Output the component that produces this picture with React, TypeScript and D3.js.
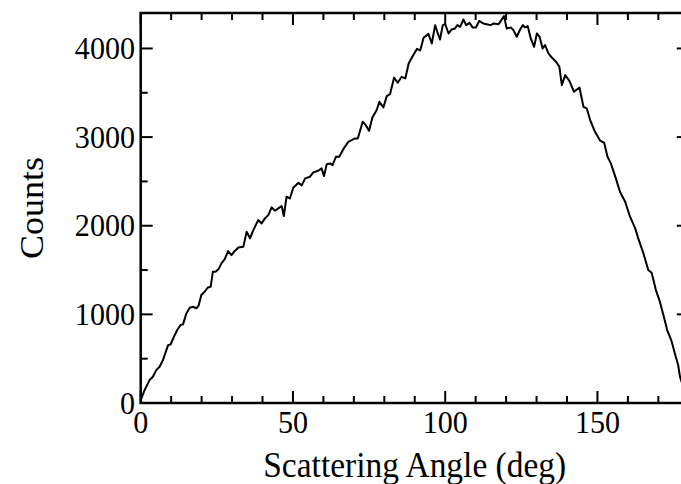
import React from "react";
import * as d3 from "d3";

const angles = [
  0, 1.3, 2.9, 4.0, 5.1, 6.2, 7.3, 9.0, 9.8, 11.0, 12.0, 13.1, 13.9, 15.0, 16.1, 17.2, 18.3, 19.0, 19.9,
  21.0, 22.1, 23.0, 23.7, 24.6, 25.6, 26.5, 27.6, 28.7, 29.8, 30.9, 32.1, 33.7, 34.8, 35.9, 37.0, 38.6,
  39.7, 40.8, 41.9, 43.0, 44.1, 45.2, 46.3, 47.0, 47.9, 49.0, 50.1, 51.8, 52.9, 54.0, 55.6, 56.7, 58.3,
  59.4, 60.2, 61.1, 62.2, 63.0, 64.1, 65.2, 66.5, 68.2, 69.3, 70.4, 71.3, 72.9, 73.9, 75.0, 76.1, 77.5,
  78.4, 79.7, 80.8, 81.9, 83.2, 84.4, 85.7, 86.9, 88.0, 89.2, 90.7, 91.8, 92.9, 94.5, 95.6, 96.7, 97.4,
  98.3, 99.2, 100.0, 101.1, 102.1, 103.2, 104.0, 104.9, 106.0, 106.9, 108.0, 109.0, 110.1, 111.2, 112.5,
  113.6, 114.9, 116.0, 117.5, 118.3, 119.3, 120.2, 121.5, 122.4, 123.5, 124.6, 125.5, 126.2, 127.1,
  128.1, 129.2, 130.1, 131.0, 132.0, 132.8, 133.9, 135.0, 136.4, 137.5, 138.3, 139.4, 140.8, 142.3,
  144.1, 145.4, 146.5, 147.6, 149.2, 150.9, 152.2, 153.3, 154.4, 155.8, 157.4, 159.1, 160.7, 162.4,
  163.4, 165.1, 166.7, 167.8, 169.2, 170.5, 171.8, 172.9, 174.4, 175.4, 176.5, 177.1, 178.0, 179.0, 180.0,
];

const counts = [
  30, 147, 258, 296, 371, 409, 484, 653, 660, 755, 823, 880, 887, 1011, 1075, 1086, 1068, 1098, 1218,
  1255, 1304, 1312, 1481, 1481, 1511, 1575, 1624, 1714, 1669, 1715, 1755, 1763, 1932, 1857, 1951, 2064,
  2026, 2083, 2120, 2207, 2169, 2195, 2222, 2109, 2327, 2308, 2429, 2485, 2455, 2534, 2553, 2602, 2620,
  2647, 2560, 2695, 2703, 2684, 2778, 2778, 2861, 2947, 2966, 2985, 2985, 3173, 3135, 3071, 3222, 3305,
  3398, 3335, 3462, 3485, 3671, 3613, 3680, 3662, 3831, 3906, 3995, 3978, 4120, 4165, 4056, 4263, 4188,
  4101, 4263, 4274, 4169, 4214, 4225, 4263, 4244, 4327, 4263, 4289, 4237, 4237, 4312, 4282,
  4274, 4263, 4282, 4274, 4312, 4365, 4225, 4237, 4207, 4132, 4214, 4263, 4237, 4252,
  4113, 4019, 4169, 4132, 4000, 4038, 3944, 3898, 3850, 3793, 3586, 3699, 3635, 3511,
  3560, 3342, 3323, 3192, 3060, 2959, 2936, 2778, 2703, 2560, 2383, 2271, 2102, 1970,
  1857, 1688, 1500, 1470, 1274, 1143, 974, 823, 692, 560, 429, 297, 200, 100, 20,
];

const xMajorTicks = [0, 50, 100, 150];
const xMinorTicks = [10, 20, 30, 40, 60, 70, 80, 90, 110, 120, 130, 140, 160, 170];
const yMajorTicks = [0, 1000, 2000, 3000, 4000];
const yMinorTicks = [500, 1500, 2500, 3500];

const xTitle = "Scattering Angle (deg)";
const yTitle = "Counts";

export default function App() {
  const W = 681;
  const H = 484;
  const x = d3.scaleLinear().domain([0, 180]).range([140.7, 688.8]);
  const y = d3.scaleLinear().domain([0, 4400]).range([403, 13]);
  const [x0, x1] = x.range();
  const [yB, yT] = y.range();
  const pts = angles.map((a, i) => [a, counts[i]] as [number, number]);
  const line = d3
    .line<[number, number]>()
    .x((d) => x(d[0]))
    .y((d) => y(d[1]));
  const font = "'Liberation Serif', 'DejaVu Serif', serif";
  const major = 12;
  const minor = 7;
  const tickW = 2;
  const sx = 0.93;

  return (
    <svg
      width={W}
      height={H}
      style={{ position: "absolute", left: 0, top: 0, background: "#fff" }}
    >
      <rect x={0} y={0} width={W} height={H} fill="#fff" />
      <defs>
        <clipPath id="plot">
          <rect x={x0} y={yT} width={x1 - x0} height={yB - yT} />
        </clipPath>
      </defs>
      <path
        d={line(pts) || ""}
        fill="none"
        stroke="#000"
        strokeWidth={2}
        strokeLinejoin="round"
        clipPath="url(#plot)"
      />
      <g stroke="#000" strokeWidth={tickW}>
        {xMajorTicks.map((t) => (
          <g key={"xm" + t}>
            <line x1={x(t)} x2={x(t)} y1={yB} y2={yB - major} />
            <line x1={x(t)} x2={x(t)} y1={yT} y2={yT + major} />
          </g>
        ))}
        {xMinorTicks.map((t) => (
          <g key={"xn" + t}>
            <line x1={x(t)} x2={x(t)} y1={yB} y2={yB - minor} />
            <line x1={x(t)} x2={x(t)} y1={yT} y2={yT + minor} />
          </g>
        ))}
        {yMajorTicks.map((t) => (
          <g key={"ym" + t}>
            <line x1={x0} x2={x0 + major} y1={y(t)} y2={y(t)} />
            <line x1={x1} x2={x1 - major} y1={y(t)} y2={y(t)} />
          </g>
        ))}
        {yMinorTicks.map((t) => (
          <g key={"yn" + t}>
            <line x1={x0} x2={x0 + minor} y1={y(t)} y2={y(t)} />
            <line x1={x1} x2={x1 - minor} y1={y(t)} y2={y(t)} />
          </g>
        ))}
      </g>
      <rect
        x={x0}
        y={yT}
        width={x1 - x0}
        height={yB - yT}
        fill="none"
        stroke="#000"
        strokeWidth={2.5}
      />
      <g fontFamily={font} fontSize={32} fill="#000">
        {xMajorTicks.map((t) => (
          <text
            key={"xl" + t}
            transform={`translate(${x(t)}, 433) scale(0.94, 1)`}
            textAnchor="middle"
          >
            {t}
          </text>
        ))}
        {yMajorTicks.map((t) => (
          <text
            key={"yl" + t}
            transform={`translate(135, ${y(t) + 10.5}) scale(0.94, 1)`}
            textAnchor="end"
          >
            {t}
          </text>
        ))}
      </g>
      <text
        transform={`translate(${(x0 + x1) / 2}, 477) scale(${sx}, 1)`}
        textAnchor="middle"
        fontFamily={font}
        fontSize={36}
        fill="#000"
      >
        {xTitle}
      </text>
      <text
        transform={`translate(43, ${(yT + yB) / 2}) scale(${sx}, 1) rotate(-90)`}
        textAnchor="middle"
        fontFamily={font}
        fontSize={36}
        fill="#000"
      >
        {yTitle}
      </text>
    </svg>
  );
}
